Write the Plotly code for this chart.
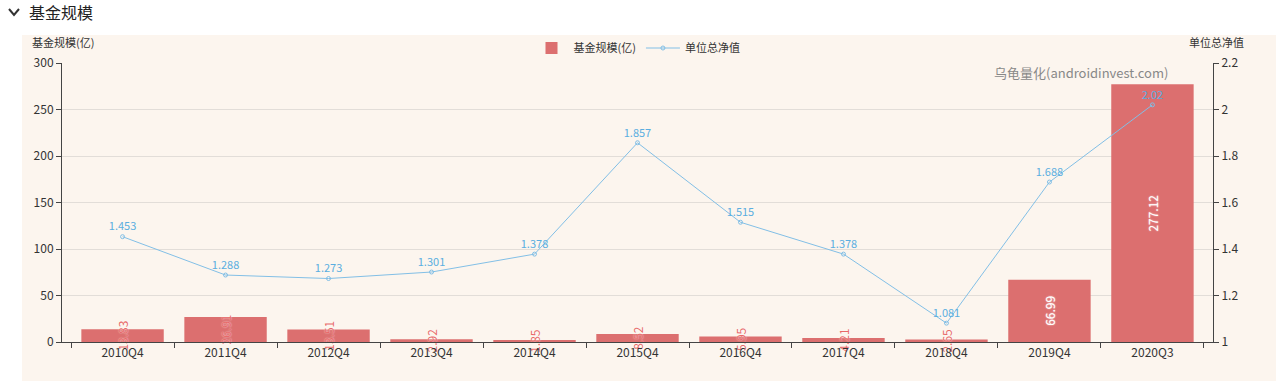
import plotly.graph_objects as go

categories = ["2010Q4", "2011Q4", "2012Q4", "2013Q4", "2014Q4", "2015Q4",
              "2016Q4", "2017Q4", "2018Q4", "2019Q4", "2020Q3"]
fund_size = [13.83, 26.91, 13.51, 2.92, 1.85, 8.52, 5.95, 4.21, 2.65, 66.99, 277.12]
unit_nav = [1.453, 1.288, 1.273, 1.301, 1.378, 1.857, 1.515, 1.378, 1.081, 1.688, 2.02]

W, H = 1282, 388
L, R, T, B = 62, 69, 63, 46
pw, ph = W - L - R, H - T - B

def px(x):
    return (x - L) / pw

def py(y):
    return (H - B - y) / ph

FONT = "Noto Sans CJK SC, Noto Sans, sans-serif"
BAR_C = "#dc6f6f"
LINE_C = "#82bfe6"

bar_text_colors = ["white" if v > 40 else "#e86a6a" for v in fund_size]

fig = go.Figure()
fig.add_trace(go.Bar(
    x=categories, y=fund_size, name="基金规模(亿)",
    marker=dict(color=BAR_C, line=dict(width=0)),
    text=[f"{v:.2f}" for v in fund_size],
    textposition="inside", insidetextanchor="middle", textangle=-90,
    textfont=dict(color=bar_text_colors, size=12, family=FONT,
                  shadow="0px 0px 1.5px rgba(255,255,255,0.9)"),
    cliponaxis=False, width=0.8,
))
fig.add_trace(go.Scatter(
    x=categories, y=unit_nav, name="单位总净值", yaxis="y2",
    mode="lines+markers+text",
    line=dict(color=LINE_C, width=1),
    marker=dict(symbol="circle-open", size=4, color=LINE_C, line=dict(width=1)),
    text=[f"{v:g}" for v in unit_nav], textposition="top center",
    textfont=dict(color="#5aaee0", size=11, family=FONT),
    cliponaxis=False,
))

shapes = [
    dict(type="rect", xref="paper", yref="paper",
         x0=px(22), x1=px(1276), y0=py(381), y1=py(35),
         fillcolor="#fcf5ee", line=dict(width=0), layer="below"),
    dict(type="path", xref="paper", yref="paper",
         path=f"M {px(9)} {py(9)} L {px(14)} {py(15)} L {px(19)} {py(9)}",
         line=dict(color="#333", width=2)),
]

annotations = [
    dict(text="基金规模", xref="paper", yref="paper", x=px(27), y=py(12),
         xanchor="left", yanchor="middle", showarrow=False,
         font=dict(size=16, color="#222", family=FONT)),
    dict(text="基金规模(亿)", xref="paper", yref="paper", x=px(30), y=py(42),
         xanchor="left", yanchor="middle", showarrow=False,
         font=dict(size=11, color="#333", family=FONT)),
    dict(text="单位总净值", xref="paper", yref="paper", x=px(1246), y=py(42),
         xanchor="right", yanchor="middle", showarrow=False,
         font=dict(size=11, color="#333", family=FONT)),
    dict(text="乌龟量化(androidinvest.com)", xref="paper", yref="paper", x=px(1170), y=py(72),
         xanchor="right", yanchor="middle", showarrow=False,
         font=dict(size=13, color="#888", family=FONT)),
]

fig.update_layout(
    width=W, height=H,
    margin=dict(l=L, r=R, t=T, b=B, autoexpand=False),
    paper_bgcolor="white", plot_bgcolor="rgba(0,0,0,0)",
    font=dict(family=FONT, size=12, color="#333"),
    showlegend=True,
    legend=dict(orientation="h", x=0.5, xanchor="center", y=py(48), yanchor="middle",
                bgcolor="rgba(0,0,0,0)", font=dict(size=11, color="#333"),
                itemwidth=34),
    xaxis=dict(type="category", tickson="boundaries", ticks="outside", ticklen=5,
               tickcolor="#444", showline=True, linecolor="#444", linewidth=1,
               showgrid=False, tickfont=dict(size=12, color="#333")),
    yaxis=dict(range=[0, 300], dtick=50, ticks="outside", ticklen=5, tickcolor="#444",
               showline=True, linecolor="#444", gridcolor="#e2ddd8", zeroline=False,
               tickfont=dict(size=12, color="#333")),
    yaxis2=dict(range=[1, 2.2], dtick=0.2, overlaying="y", side="right",
                ticks="outside", ticklen=5, tickcolor="#444", showline=True,
                linecolor="#444", showgrid=False, zeroline=False,
                tickfont=dict(size=12, color="#333")),
    uniformtext=dict(minsize=11, mode="show"),
    shapes=shapes, annotations=annotations,
)

fig.write_html("out.html", config={"displayModeBar": False},
               post_script="document.body.style.margin='0';document.body.style.overflow='hidden';")
